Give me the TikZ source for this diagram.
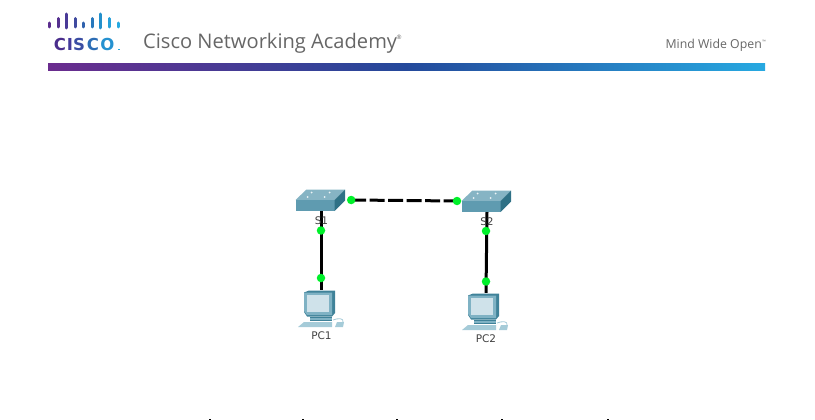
\documentclass[tikz,border=0pt]{standalone}
\usepackage{fontspec}
\setmainfont{Liberation Sans}
\newfontfamily\headfont{Open Sans}
\newfontfamily\labelfont{DejaVu Sans}
\definecolor{barpurple}{HTML}{6A2C8E}
\definecolor{barblue}{HTML}{24499B}
\definecolor{barcyan}{HTML}{27A9E1}
\definecolor{swtop}{HTML}{86B4C4}
\definecolor{swfront}{HTML}{5F9BB0}
\definecolor{swside}{HTML}{2F7186}
\definecolor{linkgreen}{HTML}{00F02A}
\definecolor{pcdark}{HTML}{3F8299}
\definecolor{pcmid}{HTML}{7FB2C4}
\definecolor{pcscreen}{HTML}{CFE2EA}
\definecolor{pclight}{HTML}{A5CBD8}
\definecolor{headgray}{HTML}{666666}
\tikzset{
  x=1pt, y=-1pt,
  wire/.style={line width=3pt, black},
  dashwire/.style={wire, dash pattern=on 15pt off 3.5pt},
  port/.style={circle, fill=linkgreen, inner sep=0pt, minimum size=8.5pt},
  devlabel/.style={font=\labelfont\fontsize{10.5}{12}\selectfont, text=black!75, inner sep=0pt},
  devicebox/.style={inner sep=0pt, minimum width=40pt, minimum height=20pt},
  bar/.style={line width=3pt, line cap=round},
  markdot/.style={fill=black, inner sep=0pt, minimum width=1.5pt, minimum height=1pt},
  logoletter/.style={font=\labelfont\bfseries\fontsize{16.5}{18}\selectfont, inner sep=0pt, anchor=center},
  switchicon/.pic={
    \fill[swtop] (-25,-0.5) -- (-14,-11) -- (24.5,-11) -- (14,-0.5) -- cycle;
    \fill[swfront] (-25,-0.5) -- (14,-0.5) -- (14,10.5) -- (-25,10.5) -- cycle;
    \fill[swside] (14,-0.5) -- (24.5,-11) -- (24.5,0) -- (14,10.5) -- cycle;
    \fill[white!85!swtop] (-9,-8) circle (1) (9,-8) circle (1) (-13,-3.5) circle (1) (4,-3.5) circle (1);
  },
  pcicon/.pic={
    % monitor
    \fill[pcdark] (-17,-26.5) -- (-12,-28.5) -- (14,-28.5) -- (14,-6) -- (11,-2.5) -- (-14,-2.5) -- (-17,-7) -- cycle;
    \fill[pcmid] (-17,-26.5) -- (11,-26.5) -- (11,-4) -- (-14,-4) -- (-17,-8) -- cycle;
    \fill[pcscreen] (-14,-24) -- (8,-24) -- (8,-7) -- (-14,-7) -- cycle;
    % stand
    \fill[pcdark] (-11,-2.5) -- (11,-2.5) -- (11,2) -- (-11,2) -- cycle;
    \fill[pcmid] (-11,-1) -- (11,-1) -- (11,0.5) -- (-11,0.5) -- cycle;
    % keyboard
    \fill[pclight] (-17,3) -- (11,3) -- (11,8) -- (-23,8) -- cycle;
    % mouse
    \draw[pclight, line width=0.8pt] (12,1) .. controls (17,-1) and (23,-1) .. (22,3);
    \fill[pclight] (16,3) -- (23,3) -- (22,8) -- (14,8) -- cycle;
  }
}
\begin{document}
\begin{tikzpicture}
\useasboundingbox (0,0) rectangle (815,420);
% header logo bars
\foreach \bx/\bt/\bb/\bc in {
  49.5/23/27/5B2D8E, 58/18.5/27/55308F, 66.5/14/28/4A3A97,
  75/18.5/27/3F4A9F, 83.5/23/27/2F62AD, 92/18.5/27/2878BD,
  100.5/14/28/2390CC, 109/18.5/27/27A0DA, 118/23/27/27A9E1}{
  \definecolor{thisbar}{HTML}{\bc}
  \draw[bar, thisbar] (\bx,\bt) -- (\bx,\bb);
}
% CISCO wordmark
\definecolor{lc}{HTML}{4A2E8C}\node[logoletter, text=lc] (c1) at (60,44) {C};
\definecolor{li}{HTML}{43399A}\node[logoletter, text=li] (i1) at (70,44) {I};
\definecolor{ls}{HTML}{3A4DA3}\node[logoletter, text=ls] (s1l) at (79,44) {S};
\definecolor{lc2}{HTML}{2C6DB5}\node[logoletter, text=lc2] (c2) at (93,44) {C};
\definecolor{lo}{HTML}{2591D0}\node[logoletter, text=lo] (o1) at (107.5,44) {O};
\node[inner sep=0pt, minimum width=1.5pt, minimum height=1pt, fill=barcyan] (dotm) at (119,49.5) {};
\node[anchor=west, inner sep=0pt, text=headgray, font=\headfont\fontsize{20.1}{22}\selectfont] (title) at (143,43.5) {Cisco Networking Academy};
\node[inner sep=0pt, text=headgray, font=\headfont\fontsize{6}{7}\selectfont] (reg) at (399,37) {®};
\node[anchor=east, inner sep=0pt, text=headgray, font=\headfont\fontsize{12.3}{14}\selectfont] (mind) at (762,45.5) {Mind Wide Open};
\node[inner sep=0pt, text=headgray, font=\headfont\fontsize{4.5}{5}\selectfont] (tm) at (764,42) {™};
% gradient bar
\shade[left color=barpurple, right color=barblue] (48,63.5) rectangle (406,71);
\shade[left color=barblue, right color=barcyan] (406,63.5) rectangle (765,71);
% devices
\path (320.5,200.5) pic {switchicon};
\path (486.5,201.5) pic {switchicon};
\path (321,319) pic {pcicon};
\path (485,322) pic {pcicon};
\node[devicebox] (S1) at (321,201) {};
\node[devicebox] (S2) at (487,202) {};
\node[devicebox] (PC1) at (321,300) {};
\node[devicebox] (PC2) at (486,303) {};
% links
\draw[dashwire] (S1.east) ++(10,-1) coordinate (a1) (a1) -- (457,201) coordinate (a2);
\draw[wire] (S1.south) -- (PC1.north);
\draw[wire] (S2.south) -- (PC2.north);
\node[port] (pa) at (a1) {};
\node[port] (pb) at (a2) {};
\node[devlabel] (lS1) at (321.5,221) {S1};
\node[devlabel] (lS2) at (487,222) {S2};
\node[port] (p1) at (321,230.5) {};
\node[port] (p2) at (321,278) {};
\node[port] (p3) at (486,231) {};
\node[port] (p4) at (486,281.5) {};
\node[devlabel] (lPC1) at (321.5,335.5) {PC1};
\node[devlabel] (lPC2) at (486,338.5) {PC2};
% marks cut off at the bottom edge
\foreach \mx in {210,303,397,502,608}{
  \node[markdot] at (\mx,419.5) {};
}
\end{tikzpicture}
\end{document}
